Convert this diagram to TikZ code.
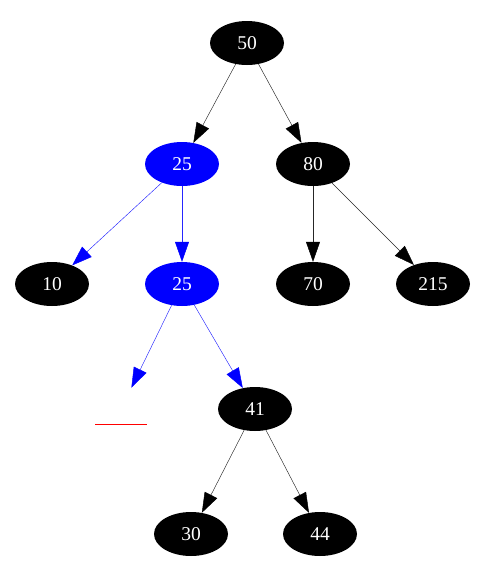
\documentclass[tikz,border=0pt]{standalone}
\usepackage{fontspec}
\setmainfont{Liberation Serif}
\usetikzlibrary{shapes.geometric,arrows.meta}
\begin{document}
\begin{tikzpicture}[x=1pt,y=-1pt,
  bnode/.style={ellipse,fill=black,text=white,minimum width=74pt,minimum height=44pt,inner sep=0pt,font=\fontsize{19.5}{21}\selectfont},
  rnode/.style={bnode,fill=blue},
  nnode/.style={ellipse,minimum width=74pt,minimum height=44pt,inner sep=0pt},
  blk/.style={draw=black!85,line width=0.45pt,-{Triangle[length=20pt,width=14pt,fill=black,color=black]}},
  blu/.style={draw=blue!85,line width=0.45pt,-{Triangle[length=20pt,width=14pt,fill=blue,color=blue]}}]
\useasboundingbox (0,0) rectangle (493,582);
\node[bnode] (n50) at (247,43) {50};
\node[rnode] (n25a) at (182,164) {25};
\node[bnode] (n80) at (313,164) {80};
\node[bnode] (n10) at (52,284) {10};
\node[rnode] (n25b) at (182,284) {25};
\node[bnode] (n70) at (313,284) {70};
\node[bnode] (n215) at (433,284) {215};
\node[nnode] (nul) at (121,409) {};
\node[bnode] (n41) at (255,409) {41};
\node[bnode] (n30) at (191,534) {30};
\node[bnode] (n44) at (320,534) {44};
\draw[red,line width=0.8pt] ([xshift=-26pt,yshift=-15pt]nul.center) -- ([xshift=26pt,yshift=-15pt]nul.center);
\draw[blk] (n50) -- (n25a);
\draw[blk] (n50) -- (n80);
\draw[blu] (n25a) -- (n10);
\draw[blu] (n25a) -- (n25b);
\draw[blu] (n25b) -- (nul);
\draw[blu] (n25b) -- (n41);
\draw[blk] (n80) -- (n70);
\draw[blk] (n80) -- (n215);
\draw[blk] (n41) -- (n30);
\draw[blk] (n41) -- (n44);
\end{tikzpicture}
\end{document}
